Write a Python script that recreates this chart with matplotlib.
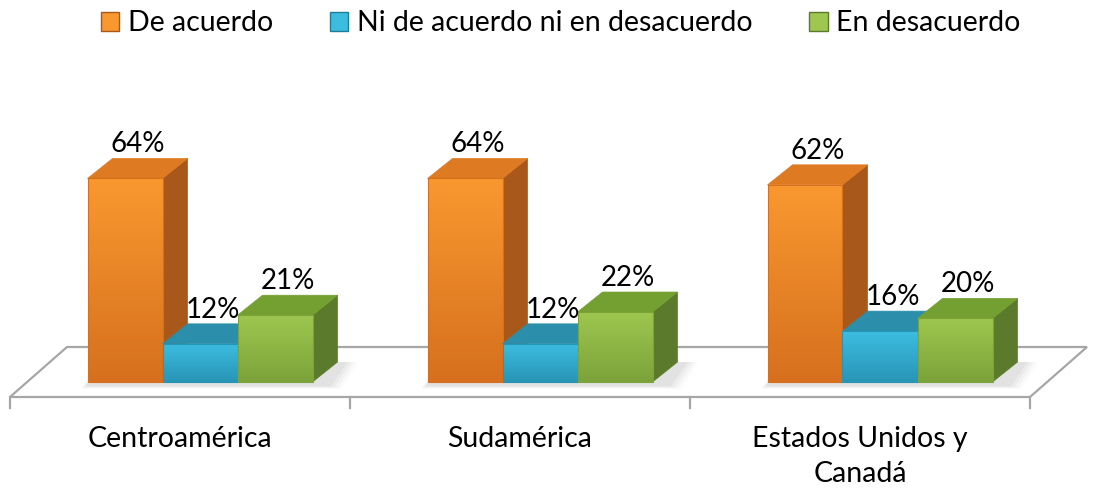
import matplotlib
matplotlib.use("Agg")
import matplotlib.pyplot as plt
import numpy as np
from matplotlib.patches import Polygon, Patch
from matplotlib.colors import LinearSegmentedColormap

plt.rcParams['font.family'] = ['Lato', 'DejaVu Sans']

# data
categories = ['Centroamérica', 'Sudamérica', 'Estados Unidos y\nCanadá']
series = ['De acuerdo', 'Ni de acuerdo ni en desacuerdo', 'En desacuerdo']
de_acuerdo = [64, 64, 62]
ni_ni = [12, 12, 16]
desacuerdo = [21, 22, 20]
values = [de_acuerdo, ni_ni, desacuerdo]

# colours: (front top, front bottom, side, top)
colors = [
    ('#F9982F', '#D6701E', '#A9581B', '#DE7B22'),
    ('#3CBDE0', '#2895B6', '#217D96', '#2B8EAA'),
    ('#9DC74F', '#7CA33A', '#5B7A2C', '#74A032'),
]

fig = plt.figure(figsize=(10.93, 4.88), dpi=100)
ax = fig.add_axes([0, 0, 1, 1])
ax.set_axis_off()

# axes scale: 1 category = 340 px, 1 % = 3.18 px
xlim = (-180 / 340, (1093 - 180) / 340)
ylim = (-(488 - 382) / 3.18, 382 / 3.18)

w = 75 / 340          # bar front width
dx = 25 / 340         # depth offset x
dy = 20 / 3.18        # depth offset y
gshift = 20 / 340     # group shift

# floor
fy0, fy1 = -15 / 3.18, 35 / 3.18
fdx = 57 / 340
n = len(categories)
floor = Polygon([(-0.5, fy0), (n - 0.5, fy0), (n - 0.5 + fdx, fy1), (-0.5 + fdx, fy1)],
                closed=True, facecolor='white', edgecolor='#A6A6A6', lw=1.6, zorder=1)
ax.add_patch(floor)
for t in np.arange(n + 1) - 0.5:
    ax.plot([t, t], [fy0, fy0 - 11 / 3.18], color='#A6A6A6', lw=1.6, zorder=1)

grad = np.linspace(1, 0, 100).reshape(-1, 1)

for i in range(n):
    left0 = i + gshift - 1.5 * w
    # soft shadow behind group
    for k, a in enumerate([0.03, 0.04, 0.05, 0.06]):
        s = (4 - k) * 0.01
        sh = Polygon([(left0 - s * 0.5, -1.0 - s * 30), (left0 + 3 * w + dx * 0.6 + s, -1.0 - s * 30),
                      (left0 + 3 * w + dx + 0.02 + s, dy), (left0 + 0.04, dy)],
                     closed=True, facecolor='#606060', edgecolor='none', alpha=a, zorder=2)
        ax.add_patch(sh)
    for j in range(3):
        v = values[j][i]
        x0 = left0 + j * w
        x1 = x0 + w
        ft, fb, side, top = colors[j]
        # side face
        ax.add_patch(Polygon([(x1, 0), (x1 + dx, dy), (x1 + dx, v + dy), (x1, v)],
                             closed=True, facecolor=side, edgecolor=side, lw=0.5, zorder=3 + j))
        # top face
        ax.add_patch(Polygon([(x0, v), (x1, v), (x1 + dx, v + dy), (x0 + dx, v + dy)],
                             closed=True, facecolor=top, edgecolor=top, lw=0.5, zorder=3 + j))
        # front face with gradient
        front = Polygon([(x0, 0), (x1, 0), (x1, v), (x0, v)], closed=True,
                        facecolor='none', edgecolor=fb, lw=0.8, zorder=4 + j)
        ax.add_patch(front)
        cmap = LinearSegmentedColormap.from_list('g', [fb, ft])
        im = ax.imshow(grad, extent=[x0, x1, 0, v], aspect='auto', cmap=cmap,
                       zorder=3.5 + j, interpolation='bilinear')
        im.set_clip_path(front)
        # value label
        ax.text(x0 + w / 2 + dx * 0.5, v + dy + 4.5, f'{v}%', ha='center', va='center',
                fontsize=20, color='black', zorder=10)
    ax.text(i, -13.8, categories[i], ha='center', va='top', fontsize=20.5,
            linespacing=1.45, color='black')

ax.set_xlim(*xlim)
ax.set_ylim(*ylim)

handles = [Patch(facecolor=c[0], edgecolor=c[2]) for c in colors]
fig.legend(handles, series, loc='upper center', ncol=3, frameon=False,
           bbox_to_anchor=(0.513, 1.032), fontsize=20.5, handlelength=0.65,
           handleheight=0.65, handletextpad=0.3, columnspacing=2.0)

fig.savefig('out.png', dpi=100)
